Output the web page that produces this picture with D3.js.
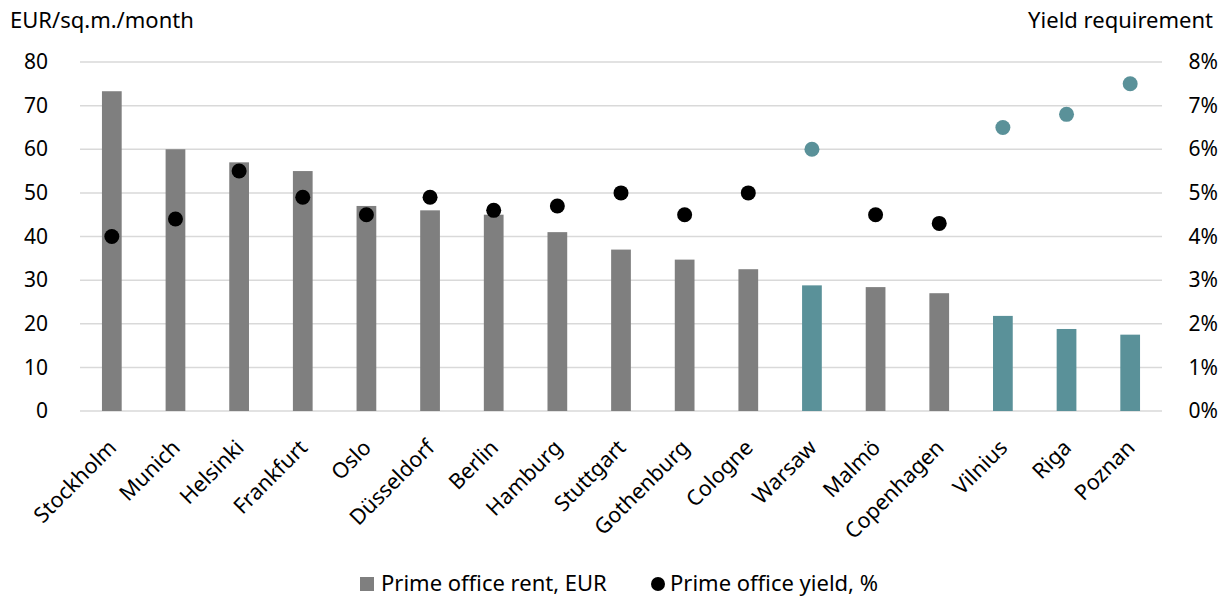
<!DOCTYPE html>
<html>
<head>
<meta charset="utf-8">
<script src="https://cdn.jsdelivr.net/npm/d3@7"></script>
<style>
  html, body { margin: 0; padding: 0; background: #fff; }
  svg { display: block; }
</style>
</head>
<body>
<svg id="chart" width="1231" height="598"></svg>
<script>
// Prime office rents (EUR/sq.m./month) and prime yields (%) by city
const cities = ["Stockholm", "Munich", "Helsinki", "Frankfurt", "Oslo", "Düsseldorf", "Berlin",
  "Hamburg", "Stuttgart", "Gothenburg", "Cologne", "Warsaw", "Malmö", "Copenhagen",
  "Vilnius", "Riga", "Poznan"];
const rents = [73.3, 60, 57, 55, 47, 46, 45, 41, 37, 34.7, 32.5, 28.8, 28.4, 27, 21.8, 18.8, 17.5];
const yields = [4.0, 4.4, 5.5, 4.9, 4.5, 4.9, 4.6, 4.7, 5.0, 4.5, 5.0, 6.0, 4.5, 4.3, 6.5, 6.8, 7.5];
// Markets highlighted in teal
const highlighted = ["Warsaw", "Vilnius", "Riga", "Poznan"];
const rentTicks = [0, 10, 20, 30, 40, 50, 60, 70, 80];
const yieldTicks = [0, 1, 2, 3, 4, 5, 6, 7, 8];

const GREY = "#7f7f7f";
const TEAL = "#5a9199";
const GRID = "#d9d9d9";
const FONT = "Noto Sans, sans-serif";

const svg = d3.select("#chart");
const plotLeft = 80, plotRight = 1162, plotTop = 62, plotBottom = 411;

const x = d3.scaleBand().domain(cities).range([plotLeft, plotRight]).paddingInner(0.69).paddingOuter(0.345);
const yRent = d3.scaleLinear().domain([0, 80]).range([plotBottom, plotTop]);
const yYield = d3.scaleLinear().domain([0, 8]).range([plotBottom, plotTop]);

// Gridlines
svg.append("g")
  .selectAll("line")
  .data(rentTicks)
  .join("line")
  .attr("x1", plotLeft).attr("x2", plotRight)
  .attr("y1", d => yRent(d)).attr("y2", d => yRent(d))
  .attr("stroke", GRID).attr("stroke-width", 1.5);

// Left axis
const leftAxis = svg.append("g")
  .attr("transform", `translate(48,0)`)
  .call(d3.axisLeft(yRent).tickValues(rentTicks).tickSize(0).tickPadding(0));
leftAxis.select(".domain").remove();
leftAxis.selectAll("text")
  .attr("font-family", FONT)
  .attr("font-size", 21).attr("fill", "#000");

// Right axis
const rightAxis = svg.append("g")
  .attr("transform", `translate(1218,0)`)
  .call(d3.axisLeft(yYield).tickValues(yieldTicks).tickSize(0).tickPadding(0)
    .tickFormat(d => d + "%"));
rightAxis.select(".domain").remove();
rightAxis.selectAll("text")
  .attr("font-family", FONT)
  .attr("font-size", 21).attr("fill", "#000");

// Bars
svg.append("g")
  .selectAll("rect")
  .data(cities)
  .join("rect")
  .attr("x", d => x(d))
  .attr("width", x.bandwidth())
  .attr("y", (d, i) => yRent(rents[i]))
  .attr("height", (d, i) => yRent(0) - yRent(rents[i]))
  .attr("fill", d => highlighted.includes(d) ? TEAL : GREY);

// Yield dots
svg.append("g")
  .selectAll("circle")
  .data(cities)
  .join("circle")
  .attr("cx", d => x(d) + x.bandwidth() / 2)
  .attr("cy", (d, i) => yYield(yields[i]))
  .attr("r", 7.5)
  .attr("fill", d => highlighted.includes(d) ? TEAL : "#000");

// Category labels
svg.append("g")
  .selectAll("text")
  .data(cities)
  .join("text")
  .attr("transform", d => `translate(${x(d) + x.bandwidth() / 2 + 6},${plotBottom + 38}) rotate(-45)`)
  .attr("text-anchor", "end")
  .attr("font-family", FONT)
  .attr("font-size", 21.5)
  .attr("fill", "#000")
  .text(d => d);

// Axis titles
svg.append("text")
  .attr("x", 10).attr("y", 28)
  .attr("font-family", FONT).attr("font-size", 22).attr("fill", "#000")
  .text("EUR/sq.m./month");
svg.append("text")
  .attr("x", 1213).attr("y", 28).attr("text-anchor", "end")
  .attr("font-family", FONT).attr("font-size", 22).attr("fill", "#000")
  .text("Yield requirement");

// Legend
const legend = svg.append("g").attr("font-family", FONT).attr("font-size", 22);
legend.append("rect").attr("x", 360).attr("y", 577).attr("width", 14).attr("height", 14).attr("fill", GREY);
legend.append("text").attr("x", 381).attr("y", 591).text("Prime office rent, EUR");
legend.append("circle").attr("cx", 658).attr("cy", 584).attr("r", 7).attr("fill", "#000");
legend.append("text").attr("x", 670).attr("y", 591).text("Prime office yield, %");
</script>
</body>
</html>
